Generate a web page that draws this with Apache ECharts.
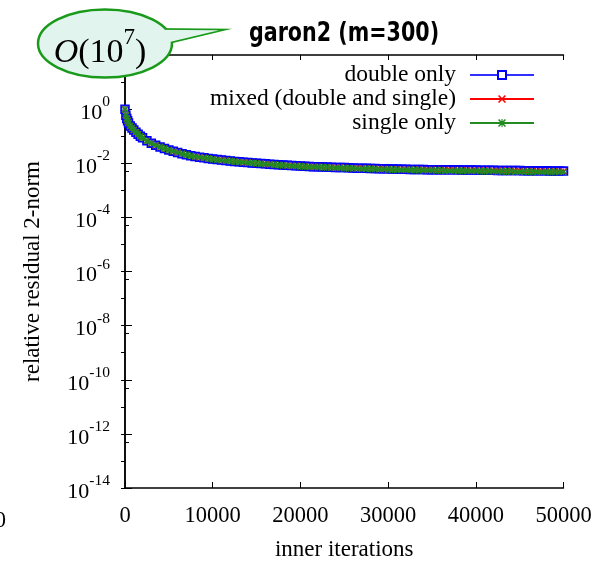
<!DOCTYPE html>
<html><head><meta charset="utf-8">
<script src="https://cdn.jsdelivr.net/npm/echarts@6/dist/echarts.min.js"></script>
<style>html,body{margin:0;padding:0;background:#fff}#c{width:613px;height:566px}</style>
</head><body><div id="c"></div><script>
const iterations = [0,100,200,300,400,600,800,1000,1250,1500,1750,2000,
  2500,3000,3500,4000,4500,5000,5500,6000,6500,7000,
  7500,8000,8500,9000,9500,10000,10500,11000,11500,12000,
  12500,13000,13500,14000,14500,15000,15500,16000,16500,17000,
  17500,18000,18500,19000,19500,20000,20500,21000,21500,22000,
  22500,23000,23500,24000,24500,25000,25500,26000,26500,27000,
  27500,28000,28500,29000,29500,30000,30500,31000,31500,32000,
  32500,33000,33500,34000,34500,35000,35500,36000,36500,37000,
  37500,38000,38500,39000,39500,40000,40500,41000,41500,42000,
  42500,43000,43500,44000,44500,45000,45500,46000,46500,47000,
  47500,48000,48500,49000,49500,50000];
const doubleOnly = [1.0,0.60,0.45,0.37,0.31,0.24,0.20,0.17,0.14,0.118,0.100,0.088,
  0.068,0.055,0.046,0.040,0.035,0.031,0.028,0.025,0.0226,0.0205,
  0.0190,0.0178,0.0167,0.0158,0.0150,0.0143,0.0137,0.0131,0.0126,0.0121,
  0.0117,0.0113,0.0109,0.0106,0.0103,0.0100,0.0097,0.0095,0.0092,0.0090,
  0.0088,0.0086,0.0084,0.0082,0.0080,0.0079,0.0077,0.0076,0.0075,0.0074,
  0.0073,0.0072,0.0071,0.0070,0.0069,0.0069,0.0068,0.0067,0.0066,0.0066,
  0.0065,0.0064,0.0064,0.0063,0.0062,0.0062,0.0061,0.0061,0.0060,0.0060,
  0.0059,0.0059,0.0059,0.0059,0.0058,0.0058,0.0058,0.0058,0.0057,0.0057,
  0.0057,0.0057,0.0056,0.0056,0.0056,0.0056,0.0055,0.0055,0.0055,0.0055,
  0.0054,0.0054,0.0054,0.0054,0.0054,0.0054,0.0053,0.0053,0.0053,0.0053,
  0.0053,0.0053,0.0052,0.0052,0.0052,0.0052];
const mixedPrec = [1.0,0.60,0.45,0.37,0.31,0.24,0.20,0.17,0.14,0.118,0.100,0.088,
  0.068,0.055,0.046,0.040,0.035,0.031,0.028,0.025,0.0226,0.0205,
  0.0190,0.0178,0.0167,0.0158,0.0150,0.0143,0.0137,0.0131,0.0126,0.0121,
  0.0117,0.0113,0.0109,0.0106,0.0103,0.0100,0.0097,0.0094,0.0092,0.0089,
  0.0087,0.0085,0.0083,0.0081,0.0080,0.0078,0.0077,0.0075,0.0074,0.0073,
  0.0072,0.0071,0.0070,0.0069,0.0068,0.0068,0.0067,0.0066,0.0065,0.0065,
  0.0064,0.0063,0.0063,0.0062,0.0061,0.0061,0.0060,0.0060,0.0059,0.0059,
  0.0058,0.0058,0.0058,0.0058,0.0057,0.0057,0.0056,0.0056,0.0056,0.0056,
  0.0055,0.0055,0.0055,0.0055,0.0054,0.0054,0.0054,0.0054,0.0053,0.0053,
  0.0053,0.0053,0.0053,0.0053,0.0052,0.0052,0.0052,0.0052,0.0052,0.0051,
  0.0051,0.0051,0.0051,0.0051,0.0050,0.0050];
const singleOnly = [1.0,0.60,0.45,0.37,0.31,0.24,0.20,0.17,0.14,0.118,0.100,0.088,
  0.068,0.055,0.046,0.040,0.035,0.031,0.028,0.025,0.0226,0.0205,
  0.0189,0.0177,0.0166,0.0157,0.0149,0.0142,0.0136,0.0130,0.0125,0.0120,
  0.0116,0.0112,0.0108,0.0105,0.0102,0.0099,0.0096,0.0093,0.0091,0.0088,
  0.0086,0.0084,0.0082,0.0080,0.0078,0.0077,0.0075,0.0074,0.0073,0.0072,
  0.0071,0.0070,0.0069,0.0068,0.0067,0.0066,0.0066,0.0065,0.0064,0.0063,
  0.0062,0.0061,0.0061,0.0060,0.0060,0.0059,0.0058,0.0058,0.0057,0.0057,
  0.0056,0.0056,0.0055,0.0055,0.0055,0.0055,0.0054,0.0054,0.0053,0.0053,
  0.0053,0.0053,0.0052,0.0052,0.0052,0.0052,0.0051,0.0051,0.0051,0.0051,
  0.0050,0.0050,0.0050,0.0050,0.0049,0.0049,0.0049,0.0049,0.0048,0.0048,
  0.0048,0.0048,0.0047,0.0047,0.0047,0.0047];
const seriesNames = ['double only','mixed (double and single)','single only'];
const titleText = 'garon2 (m=300)';
const xAxisName = 'inner iterations';
const yAxisName = 'relative residual 2-norm';
const xMin = 0, xMax = 50000, xStep = 10000;
const yMin = 1e-14, yMax = 1e2;

const serif = '"Liberation Serif", "DejaVu Serif", serif';
const pair = (ys) => iterations.map((x, i) => [x, ys[i]]);
const crossPath = 'path://M0,1.4L1.4,0L5,3.6L8.6,0L10,1.4L6.4,5L10,8.6L8.6,10L5,6.4L1.4,10L0,8.6L3.6,5Z';
const starPath = 'path://M0,1.4L1.4,0L5,3.6L8.6,0L10,1.4L6.4,5L10,8.6L8.6,10L5,6.4L1.4,10L0,8.6L3.6,5Z M4.3,0L5.7,0L5.7,10L4.3,10Z M0,4.3L10,4.3L10,5.7L0,5.7Z';

const chart = echarts.init(document.getElementById('c'), null, {renderer: 'canvas'});
const axisLine = {show: true, lineStyle: {color: '#000', width: 1.5}};

chart.setOption({
  animation: false,
  backgroundColor: '#fff',
  grid: {left: 125, right: 49.5, top: 55, bottom: 73},
  legend: {
    orient: 'vertical', align: 'right', right: 78, top: 63, padding: 0,
    itemWidth: 64, itemHeight: 10, itemGap: 0,
    textStyle: {fontFamily: serif, fontSize: 23.5, color: '#000', lineHeight: 23.5, padding: [0, 9, 0, 0]},
    data: seriesNames
  },
  xAxis: [{
    type: 'value', min: xMin, max: xMax, interval: xStep, position: 'bottom',
    axisLine: axisLine, splitLine: {show: false},
    axisTick: {inside: true, length: 6, lineStyle: {color: '#000', width: 1}},
    axisLabel: {fontFamily: serif, fontSize: 22.5, color: '#000', margin: 17,
                formatter: (v) => String(v)},
    name: xAxisName, nameLocation: 'middle', nameGap: 50,
    nameTextStyle: {fontFamily: serif, fontSize: 23, color: '#000'}
  }, {
    type: 'value', min: xMin, max: xMax, interval: xStep, position: 'top',
    axisLine: axisLine, splitLine: {show: false},
    axisTick: {inside: true, length: 5, lineStyle: {color: '#000', width: 1}},
    axisLabel: {show: false}
  }],
  yAxis: [{
    type: 'log', logBase: 10, min: yMin, max: yMax, interval: 2, position: 'left',
    axisLine: axisLine, splitLine: {show: false},
    axisTick: {inside: true, length: 7, lineStyle: {color: '#000', width: 1}},
    minorTick: {show: true, splitNumber: 2, length: 4, lineStyle: {color: '#000', width: 1}},
    axisLabel: {
      margin: 15, showMaxLabel: false,
      formatter: (v) => '{b|10}{s|' + Math.round(Math.log10(v)) + '}',
      rich: {
        b: {fontFamily: serif, fontSize: 22, color: '#000', verticalAlign: 'bottom', lineHeight: 30},
        s: {fontFamily: serif, fontSize: 15.5, color: '#000', verticalAlign: 'top', lineHeight: 30}
      }
    },
    name: yAxisName, nameLocation: 'middle', nameGap: 81,
    nameTextStyle: {fontFamily: serif, fontSize: 23, color: '#000'}
  }, {
    type: 'log', logBase: 10, min: yMin, max: yMax, interval: 1, position: 'right',
    axisLine: axisLine, splitLine: {show: false},
    axisTick: {inside: true, length: 4, lineStyle: {color: '#000', width: 1}},
    axisLabel: {show: false}
  }],
  series: [{
    name: seriesNames[0], type: 'line', data: pair(doubleOnly),
    xAxisIndex: 0, yAxisIndex: 0, z: 2,
    symbol: 'emptyRect', symbolSize: 7.5, showAllSymbol: true,
    lineStyle: {color: '#2f2fff', width: 2},
    itemStyle: {color: '#0000ff', borderWidth: 1}
  }, {
    name: seriesNames[1], type: 'line', data: pair(mixedPrec),
    xAxisIndex: 0, yAxisIndex: 0, z: 3,
    symbol: crossPath, symbolSize: 7, showAllSymbol: true,
    lineStyle: {color: '#ff0000', width: 1},
    itemStyle: {color: '#ff0000'}
  }, {
    name: seriesNames[2], type: 'line', data: pair(singleOnly),
    xAxisIndex: 0, yAxisIndex: 0, z: 4,
    symbol: starPath, symbolSize: 7, showAllSymbol: true,
    lineStyle: {color: '#228b22', width: 1},
    itemStyle: {color: '#228b22'}
  }],
  graphic: [
    {type: 'text', x: 344, y: 34, scaleX: 0.85, z: 10,
     style: {text: titleText, font: 'bold 27px "DejaVu Sans Condensed", "DejaVu Sans", sans-serif',
             fill: '#000', textAlign: 'center', textVerticalAlign: 'middle'}},
    {type: 'text', x: 6, y: 521, z: 10,
     style: {text: '0', font: '22.5px ' + serif, fill: '#000', textAlign: 'right', textVerticalAlign: 'middle'}},
    {type: 'polygon', z: 20,
     shape: {points: [[150, 29.3], [222, 30], [155, 46]]},
     style: {fill: '#e2f4ee', stroke: '#1a9a1a', lineWidth: 2.5}},
    {type: 'ellipse', z: 21,
     shape: {cx: 105, cy: 43.5, rx: 67, ry: 34},
     style: {fill: '#e2f4ee', stroke: '#1a9a1a', lineWidth: 2.5}},
    {type: 'polygon', z: 22,
     shape: {points: [[150, 29.8], [219, 30.2], [155, 45.4]]},
     style: {fill: '#e2f4ee', stroke: null}},
    {type: 'text', x: 100, y: 48, z: 23,
     style: {
       text: '{i|O}{n|(10}{s|7}{n|)}',
       textAlign: 'center', textVerticalAlign: 'middle',
       rich: {
         i: {fontFamily: serif, fontStyle: 'italic', fontSize: 34, color: '#000', verticalAlign: 'bottom', lineHeight: 44},
         n: {fontFamily: serif, fontSize: 34, color: '#000', verticalAlign: 'bottom', lineHeight: 44},
         s: {fontFamily: serif, fontSize: 23, color: '#000', verticalAlign: 'top', lineHeight: 44}
       }
     }}
  ]
});
</script></body></html>
